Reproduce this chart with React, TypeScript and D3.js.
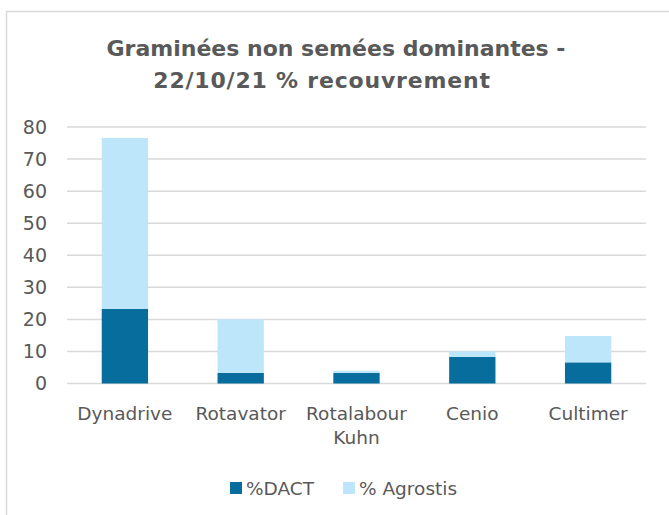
import * as d3 from 'd3';
import React, { useRef, useEffect } from 'react';

const categories = ['Dynadrive', 'Rotavator', 'Rotalabour Kuhn', 'Cenio', 'Cultimer'];
const dact = [23.3, 3.3, 3.3, 8.3, 6.6];
const agrostis = [53.3, 16.7, 0.7, 1.7, 8.2];
const seriesNames = ['%DACT', '% Agrostis'];
const yTicks = [0, 10, 20, 30, 40, 50, 60, 70, 80];

const colors = ['#076d9d', '#bde6fb'];
const textColor = '#595959';
const font = "'DejaVu Sans', sans-serif";

function App() {
    const ref = useRef(null);

    useEffect(() => {
        const svg = d3.select(ref.current);
        svg.selectAll('*').remove();

        const left = 67, right = 646, top = 127, bottom = 383.5;

        // chart frame
        svg.append('rect')
            .attr('x', 6.5).attr('y', 11.5)
            .attr('width', 800).attr('height', 700)
            .attr('fill', 'white')
            .attr('stroke', '#d9d9d9')
            .attr('stroke-width', 1.5);

        // title
        const title = svg.append('text')
            .attr('text-anchor', 'middle')
            .attr('fill', textColor)
            .attr('font-family', font)
            .attr('font-weight', 'bold')
            .attr('font-size', 22);
        title.append('tspan').attr('x', 336).attr('y', 56).text('Graminées non semées dominantes -');
        title.append('tspan').attr('x', 322).attr('y', 88)
            .attr('letter-spacing', 0.8)
            .text('22/10/21 % recouvrement');

        const x = d3.scaleBand().domain(categories).range([left, right]).paddingInner(0.6).paddingOuter(0.3);
        const y = d3.scaleLinear().domain([0, 80]).range([bottom, top]);

        // gridlines
        svg.append('g').selectAll('line')
            .data(yTicks).enter()
            .append('line')
            .attr('x1', left).attr('x2', right)
            .attr('y1', d => y(d)).attr('y2', d => y(d))
            .attr('stroke', '#d9d9d9')
            .attr('stroke-width', 1.5);

        // y labels
        svg.append('g').selectAll('text')
            .data(yTicks).enter()
            .append('text')
            .attr('x', 47)
            .attr('y', d => y(d))
            .attr('dy', '0.36em')
            .attr('text-anchor', 'end')
            .attr('fill', textColor)
            .attr('font-family', font)
            .attr('font-size', 19)
            .text(d => d);

        // stacked bars
        const rows = categories.map((c, i) => ({ cat: c, a: dact[i], b: agrostis[i] }));
        const stacked = d3.stack().keys(['a', 'b'])(rows as any);

        svg.append('g').selectAll('g')
            .data(stacked).enter()
            .append('g')
            .attr('fill', (d, i) => colors[i])
            .selectAll('rect')
            .data(d => d).enter()
            .append('rect')
            .attr('x', (d: any) => x(d.data.cat))
            .attr('width', x.bandwidth())
            .attr('y', d => y(d[1]))
            .attr('height', d => y(d[0]) - y(d[1]));

        // x labels
        const xl = svg.append('g');
        categories.forEach(c => {
            const words = c === 'Rotalabour Kuhn' ? ['Rotalabour', 'Kuhn'] : [c];
            const t = xl.append('text')
                .attr('text-anchor', 'middle')
                .attr('fill', textColor)
                .attr('font-family', font)
                .attr('font-size', 18.5);
            words.forEach((w, i) => {
                t.append('tspan')
                    .attr('x', x(c) + x.bandwidth() / 2)
                    .attr('y', 420 + i * 24)
                    .text(w);
            });
        });

        // legend
        const legendX = [230, 343];
        seriesNames.forEach((s, i) => {
            svg.append('rect')
                .attr('x', legendX[i]).attr('y', 482)
                .attr('width', 12).attr('height', 12)
                .attr('fill', colors[i]);
            svg.append('text')
                .attr('x', legendX[i] + 16).attr('y', 495)
                .attr('fill', textColor)
                .attr('font-family', font)
                .attr('font-size', 18.5)
                .text(s);
        });
    }, []);

    return (
        <svg ref={ref} width={669} height={515}
            style={{ position: 'absolute', left: 0, top: 0, background: 'white' }}>
        </svg>
    );
}

export default App;
